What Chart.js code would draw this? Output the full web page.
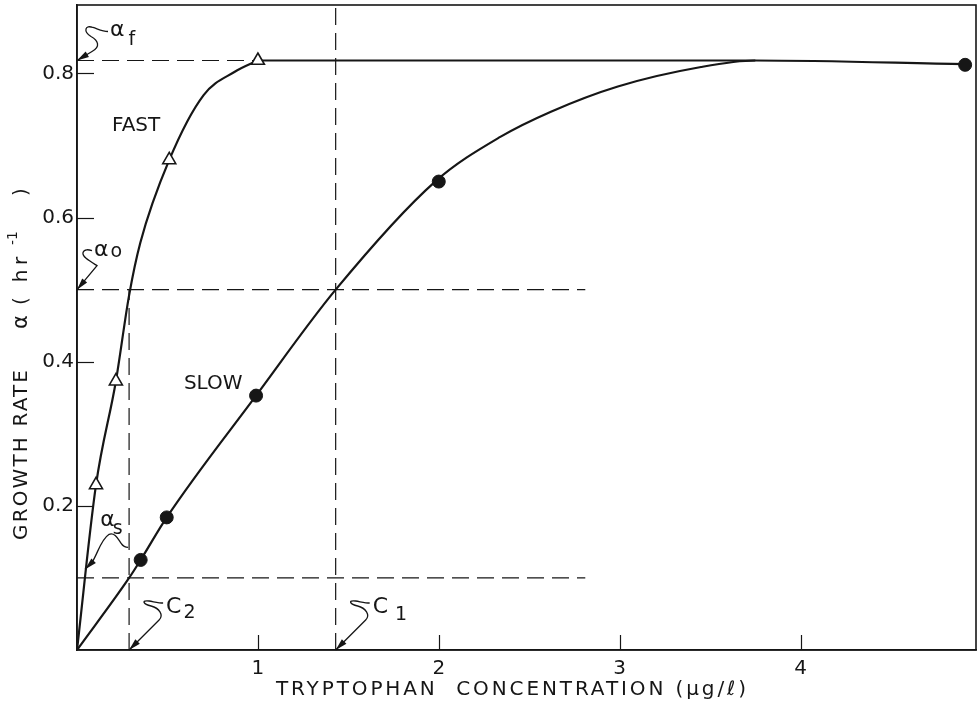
<!DOCTYPE html>
<html>
<head>
<meta charset="utf-8">
<script src="https://cdn.jsdelivr.net/npm/chart.js@4.4.1/dist/chart.umd.min.js"></script>
<style>
html,body{margin:0;padding:0;background:#fff;}
#wrap{width:979px;height:707px;}
</style>
</head>
<body>
<div id="wrap"><canvas id="c" width="979" height="707"></canvas></div>
<script>
// ---- data ----
const xTickVals = [1, 2, 3, 4];
const yTickVals = [0.2, 0.4, 0.6, 0.8];
const xMax = 4.97;
const yMax = 0.895;

// measured points
const fastX = [0.105, 0.215, 0.51, 1.0];
const fastY = [0.229, 0.373, 0.68, 0.818];
const slowX = [0.352, 0.496, 0.99, 2.0, 4.91];
const slowY = [0.125, 0.184, 0.353, 0.65, 0.812];

// fitted curves
const fastCurveX = [0, 0.105, 0.215, 0.288, 0.35, 0.51, 0.7, 0.87, 1.0];
const fastCurveY = [0, 0.229, 0.373, 0.492, 0.565, 0.68, 0.77, 0.802, 0.818];
const plateauX = [1.0, 3.75];
const plateauY = [0.818, 0.818];
const slowCurveX = [0, 0.288, 0.352, 0.496, 0.99, 1.43, 1.98, 2.34, 2.62, 2.99, 3.45, 3.75, 4.91];
const slowCurveY = [0, 0.1, 0.125, 0.184, 0.353, 0.5, 0.65, 0.712, 0.747, 0.782, 0.809, 0.818, 0.813];

// reference levels
const alphaF = 0.818, alpha0 = 0.5, alphaS = 0.1;
const c2 = 0.288, c1 = 1.43;
const hLineEnd = 2.81;

const pts = (xs, ys) => xs.map((x, i) => ({x: x, y: ys[i]}));

const FONT = '"DejaVu Sans", "Liberation Sans", sans-serif';
const INK = '#161616';

const dashed = (data) => ({
  type: 'line', data: data, borderColor: INK, borderWidth: 1.2, borderDash: [17, 8],
  pointRadius: 0, fill: false, order: 5, tension: 0
});

const datasets = [
  {type: 'scatter', label: 'fast', data: pts(fastX, fastY), pointStyle: 'triangle', pointRadius: 7.5,
   backgroundColor: '#fff', borderColor: INK, borderWidth: 1.6, order: 0},
  {type: 'scatter', label: 'slow', data: pts(slowX, slowY), pointStyle: 'circle', pointRadius: 6.5,
   backgroundColor: INK, borderColor: INK, borderWidth: 1, order: 0},
  {type: 'line', data: pts(fastCurveX, fastCurveY), borderColor: INK, borderWidth: 2.2, pointRadius: 0,
   cubicInterpolationMode: 'monotone', fill: false, order: 2},
  {type: 'line', data: pts(plateauX, plateauY), borderColor: INK, borderWidth: 2.2, pointRadius: 0,
   tension: 0, fill: false, order: 2},
  {type: 'line', data: pts(slowCurveX, slowCurveY), borderColor: INK, borderWidth: 2.2, pointRadius: 0,
   cubicInterpolationMode: 'monotone', fill: false, order: 2},
  dashed([{x: 0, y: alphaF}, {x: 1.0, y: alphaF}]),
  dashed([{x: 0, y: alpha0}, {x: hLineEnd, y: alpha0}]),
  dashed([{x: 0, y: alphaS}, {x: hLineEnd, y: alphaS}]),
  dashed([{x: c2, y: 0}, {x: c2, y: alpha0}]),
  dashed([{x: c1, y: 0}, {x: c1, y: yMax}])
];

// annotation leaders: tip in data space, path offsets in px relative to tip
const notes = [
  {tip: [0, alphaF], txt: 'α', sub: 'f', tx: 33, ty: -30, sx: 4, sy: 10,
   path: [[15,-9],[24,-14, 21,-20, 14,-24],[6,-29, 8,-36, 16,-33],[22,-31, 26,-29, 31,-29]]},
  {tip: [0, alpha0], txt: 'α', sub: 'o', tx: 17, ty: -39, sx: 2, sy: 1,
   path: [[20,-24],[12,-29, 5,-33, 6,-37],[7,-41, 12,-40, 15,-39]]},
  {tip: [0.045, alphaS + 0.012], txt: 'α', sub: 's', tx: 15, ty: -49, sx: -2, sy: 9,
   path: [[7,-7],[13,-17, 16,-30, 24,-35],[30,-37, 33,-30, 36,-26],[38,-23, 41,-22, 43,-22]]},
  {tip: [c2, 0], txt: 'C', sub: '2', tx: 37, ty: -43, sx: 2, sy: 6,
   path: [[30,-30],[35,-35, 30,-42, 22,-44],[14,-46, 12,-50, 20,-49],[26,-48, 30,-47, 34,-47]]},
  {tip: [c1, 0], txt: 'C', sub: '1', tx: 37, ty: -43, sx: 7, sy: 8,
   path: [[30,-30],[35,-35, 30,-42, 22,-44],[14,-46, 12,-50, 20,-49],[26,-48, 30,-47, 34,-47]]}
];
const curveLabels = [
  {x: 0.327, y: 0.727, text: 'FAST'},
  {x: 0.753, y: 0.369, text: 'SLOW'}
];
const xTitle = 'TRYPTOPHAN  CONCENTRATION (μg/ℓ)';
const yTitleA = 'GROWTH RATE';
// pieces of "α (hr⁻¹ )" with their centre positions along the axis (px from top)
const yTitlePieces = [
  {t: 'α', at: 322, size: 21, raise: 0},
  {t: '(', at: 301, size: 20, raise: 0},
  {t: 'h', at: 276, size: 20, raise: 0},
  {t: 'r', at: 261, size: 20, raise: 0},
  {t: '-1', at: 238, size: 14, raise: 9},
  {t: ')', at: 192, size: 20, raise: 0}
];

function spacedText(ctx, text, cx, cy, width) {
  ctx.letterSpacing = '0px';
  const w = ctx.measureText(text).width;
  const ls = (width - w) / (text.length - 1);
  ctx.letterSpacing = ls + 'px';
  const w2 = ctx.measureText(text).width;
  ctx.textAlign = 'left';
  ctx.fillText(text, cx - w2 / 2 + ls / 2, cy);
  ctx.letterSpacing = '0px';
}

const decor = {
  id: 'decor',
  afterDatasetsDraw(chart) {
    const ctx = chart.ctx, a = chart.chartArea;
    const xs = chart.scales.x, ys = chart.scales.y;
    ctx.save();
    ctx.strokeStyle = INK; ctx.fillStyle = INK;
    // frame
    ctx.lineWidth = 1.6;
    ctx.strokeRect(a.left, a.top, a.right - a.left, a.bottom - a.top);
    // inward ticks
    ctx.lineWidth = 1.2;
    yTickVals.forEach(v => {
      const p = Math.round(ys.getPixelForValue(v)) + 0.5;
      ctx.beginPath(); ctx.moveTo(a.left, p); ctx.lineTo(a.left + 17, p); ctx.stroke();
    });
    xTickVals.forEach(v => {
      const p = Math.round(xs.getPixelForValue(v)) + 0.5;
      ctx.beginPath(); ctx.moveTo(p, a.bottom); ctx.lineTo(p, a.bottom - 15); ctx.stroke();
    });
    // annotation leaders
    notes.forEach(n => {
      const tx = xs.getPixelForValue(n.tip[0]), ty = ys.getPixelForValue(n.tip[1]);
      ctx.lineWidth = 1.3;
      ctx.beginPath(); ctx.moveTo(tx, ty);
      n.path.forEach(s => {
        if (s.length === 2) ctx.lineTo(tx + s[0], ty + s[1]);
        else ctx.bezierCurveTo(tx + s[0], ty + s[1], tx + s[2], ty + s[3], tx + s[4], ty + s[5]);
      });
      ctx.stroke();
      // arrowhead
      const d = n.path[0], len = Math.hypot(d[0], d[1]);
      const ux = d[0] / len, uy = d[1] / len;
      const L = 12, W = 3.2;
      ctx.beginPath();
      ctx.moveTo(tx, ty);
      ctx.lineTo(tx + ux * L - uy * W, ty + uy * L + ux * W);
      ctx.lineTo(tx + ux * L + uy * W, ty + uy * L - ux * W);
      ctx.closePath(); ctx.fill();
      // text
      ctx.font = '22px ' + FONT;
      ctx.textAlign = 'left'; ctx.textBaseline = 'middle';
      ctx.fillText(n.txt, tx + n.tx, ty + n.ty);
      const w = ctx.measureText(n.txt).width;
      ctx.font = '19px ' + FONT;
      ctx.fillText(n.sub, tx + n.tx + w + n.sx, ty + n.ty + n.sy);
    });
    // curve labels
    ctx.font = '20px ' + FONT;
    ctx.textAlign = 'center'; ctx.textBaseline = 'middle';
    curveLabels.forEach(l => {
      ctx.fillText(l.text, xs.getPixelForValue(l.x), ys.getPixelForValue(l.y));
    });
    // axis titles
    ctx.font = '20px ' + FONT;
    ctx.textBaseline = 'middle';
    spacedText(ctx, xTitle, 511, 690, 470);
    ctx.save();
    ctx.translate(22, 0);
    ctx.rotate(-Math.PI / 2);
    spacedText(ctx, yTitleA, -455, 0, 170);
    ctx.textAlign = 'center';
    yTitlePieces.forEach(p => {
      ctx.font = p.size + 'px ' + FONT;
      ctx.fillText(p.t, -p.at, -p.raise);
    });
    ctx.restore();
    ctx.restore();
  }
};

new Chart(document.getElementById('c'), {
  data: {datasets: datasets},
  options: {
    responsive: false,
    animation: false,
    events: [],
    layout: {autoPadding: false, padding: {top: 5, right: 3, left: 0, bottom: 0}},
    plugins: {legend: {display: false}, tooltip: {enabled: false}},
    scales: {
      x: {
        type: 'linear', min: 0, max: xMax,
        afterBuildTicks: s => { s.ticks = xTickVals.map(v => ({value: v})); },
        afterFit: s => { s.height = 57; s.paddingLeft = 0; s.paddingRight = 0; },
        ticks: {color: INK, font: {family: FONT, size: 20}, padding: 7,
                callback: v => String(v), maxRotation: 0, autoSkip: false},
        grid: {display: false, drawTicks: false},
        border: {display: true, color: INK, width: 1.6}
      },
      y: {
        type: 'linear', min: 0, max: yMax,
        afterBuildTicks: s => { s.ticks = yTickVals.map(v => ({value: v})); },
        afterFit: s => { s.width = 77; s.paddingTop = 0; s.paddingBottom = 0; },
        ticks: {color: INK, font: {family: FONT, size: 20}, padding: 3,
                callback: v => v.toFixed(1), autoSkip: false},
        grid: {display: false, drawTicks: false},
        border: {display: true, color: INK, width: 1.6}
      }
    }
  },
  plugins: [decor]
});
</script>
</body>
</html>
